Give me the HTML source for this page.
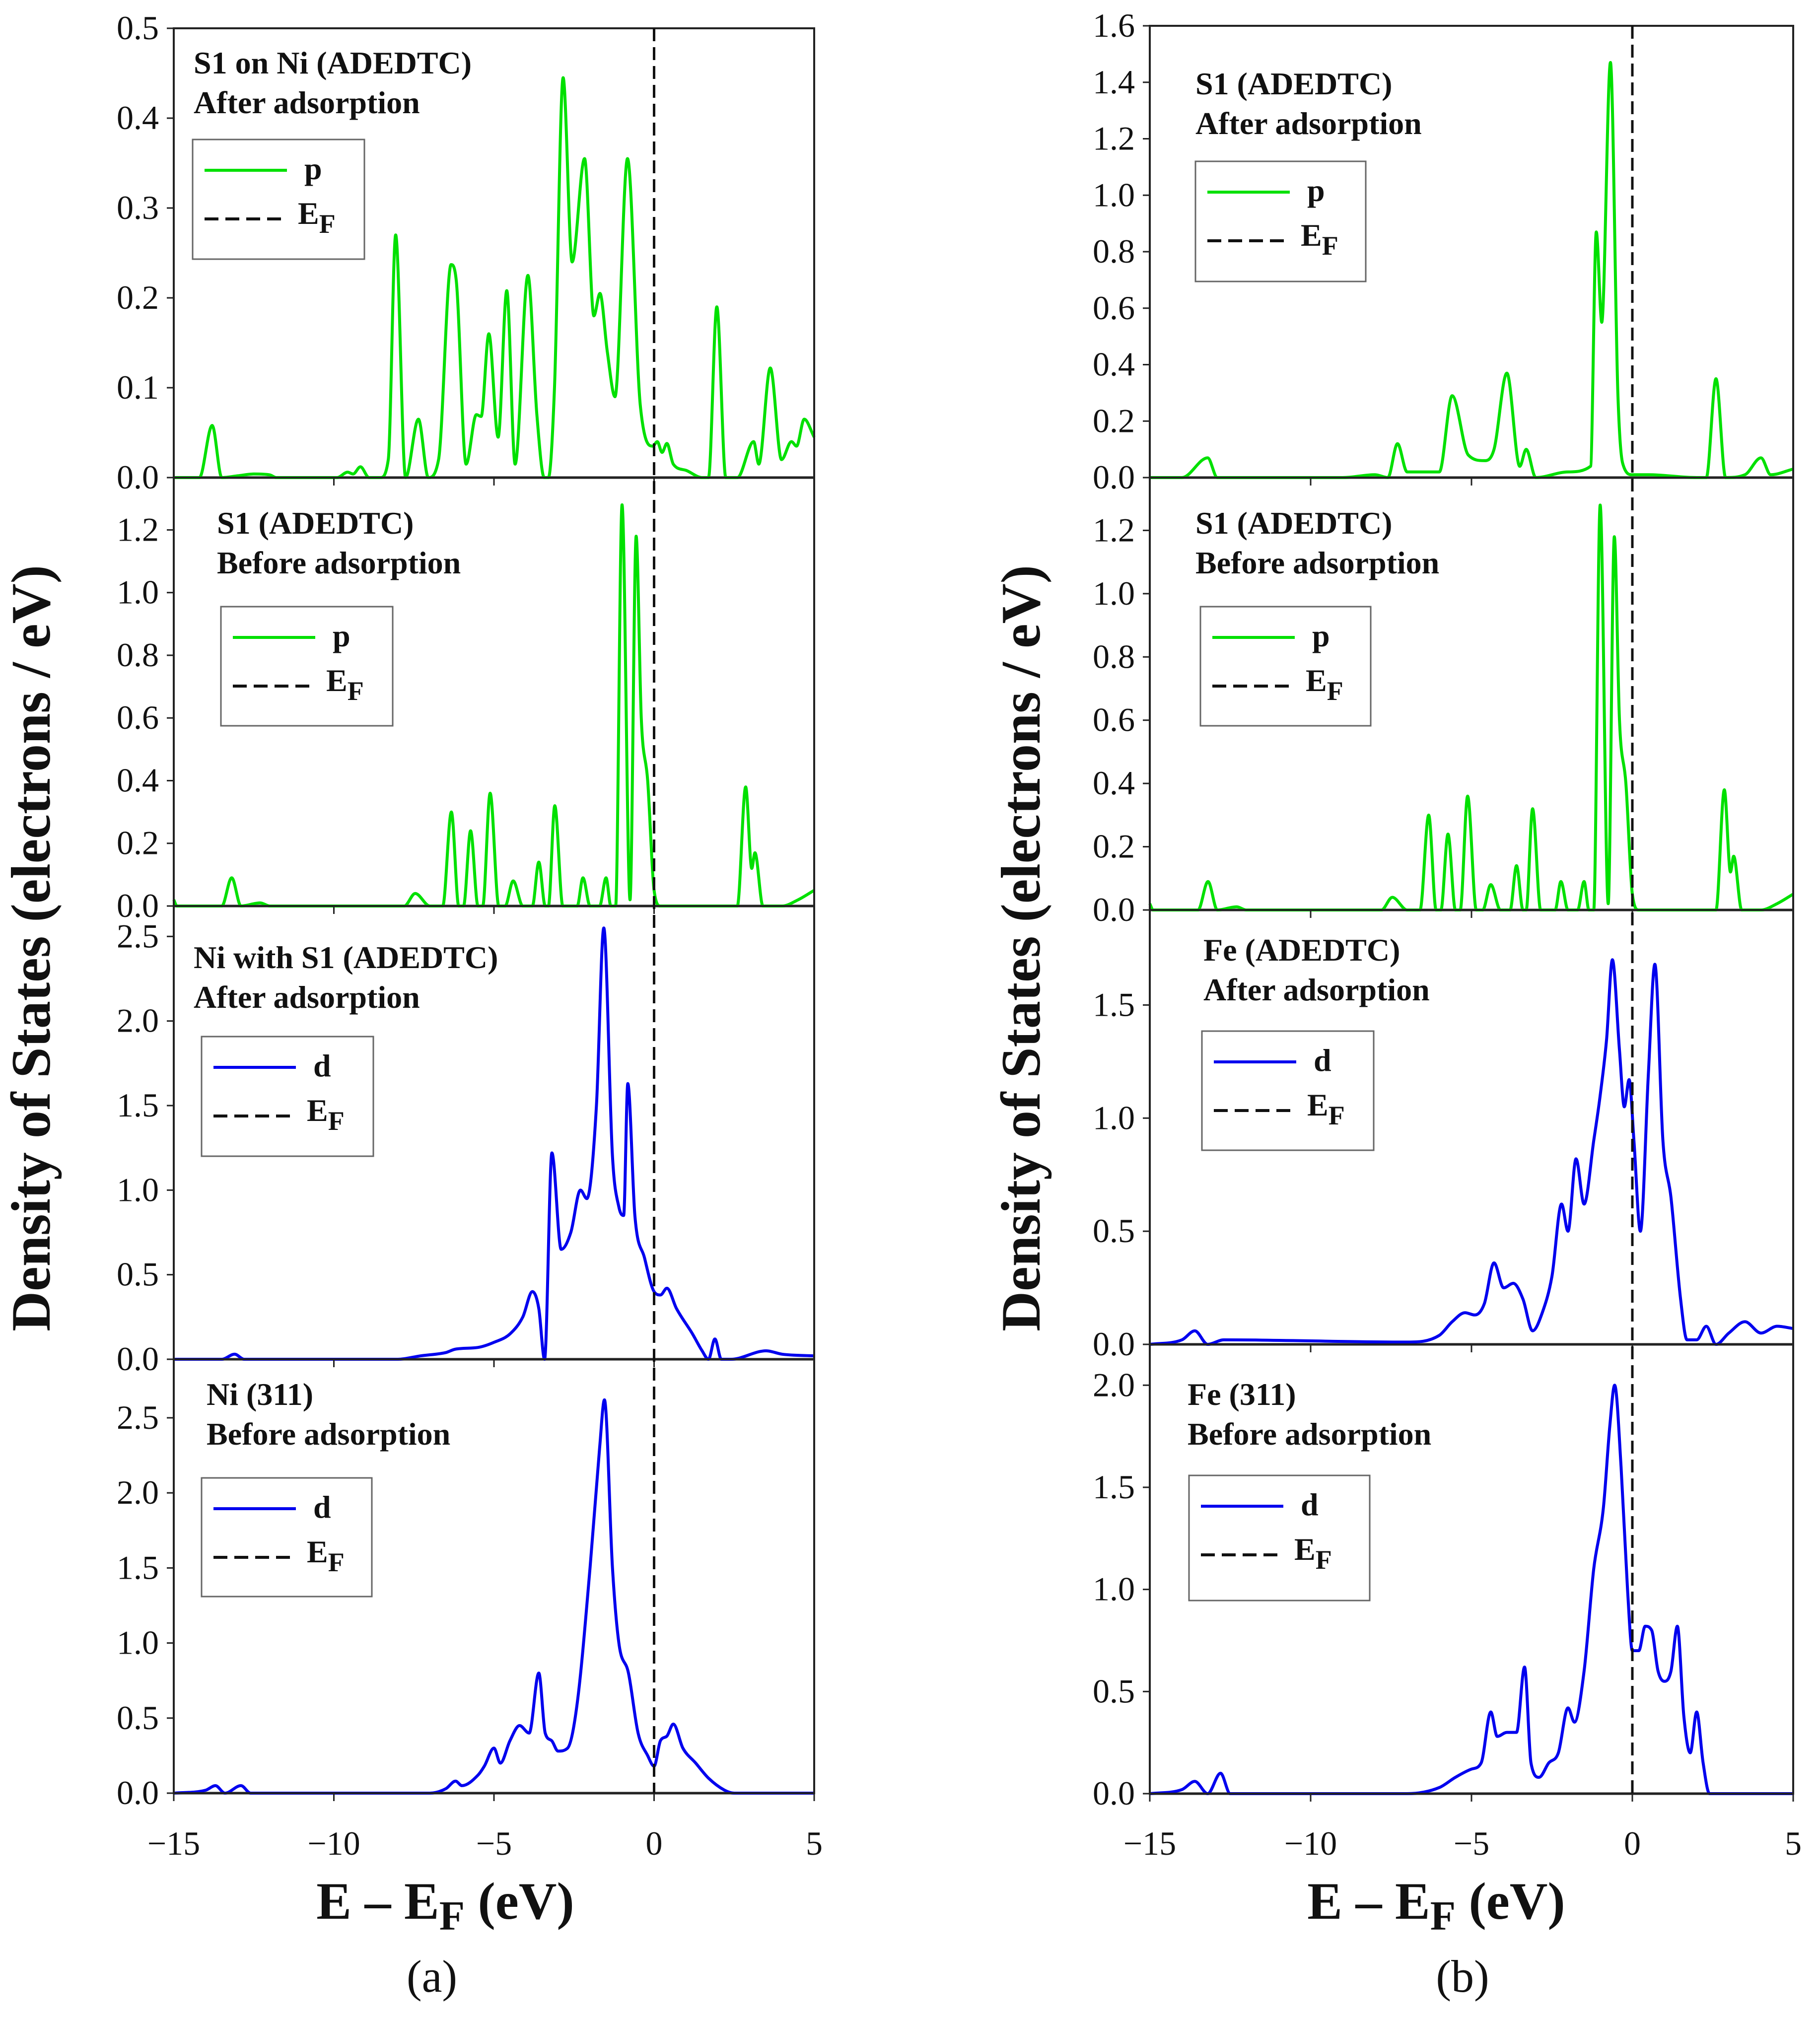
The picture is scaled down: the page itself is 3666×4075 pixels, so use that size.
<!DOCTYPE html>
<html><head><meta charset="utf-8"><style>
html,body{margin:0;padding:0;background:#fff}
svg{display:block}
text{font-family:"Liberation Serif",serif}
</style></head><body>
<svg id="fig" xmlns="http://www.w3.org/2000/svg" width="3666" height="4075" viewBox="0 0 3666 4075">
<rect width="3666" height="4075" fill="#fff"/>
</svg>
<script>
// ---- data (energy in eV, DOS in electrons/eV) ----
const s1NiAfterE=[-15,-14.2,-13.8,-13.5,-13,-12.5,-12,-11.8,-9.9,-9.57,-9.4,-9.17,-8.9,-8.55,-8.3,-8.07,-7.76,-7.36,-7.05,-6.73,-6.34,-6.18,-5.87,-5.55,-5.4,-5.16,-4.87,-4.6,-4.34,-3.94,-3.66,-3.43,-3.3,-3.11,-2.84,-2.56,-2.17,-1.88,-1.69,-1.46,-1.22,-0.83,-0.43,-0.04,0.1,0.25,0.4,0.6,1.0,1.5,1.7,1.96,2.24,2.6,3.11,3.27,3.63,3.98,4.29,4.45,4.69,5];
const s1NiAfterDos=[0,0,0.058,0,0.002,0.004,0.003,0,0,0.006,0.004,0.012,0,0,0.02,0.27,0,0.065,0,0.02,0.237,0.22,0.015,0.07,0.068,0.16,0.045,0.208,0.015,0.225,0.07,0,0,0.1,0.445,0.24,0.355,0.18,0.205,0.14,0.09,0.355,0.08,0.035,0.04,0.028,0.038,0.015,0.008,0,0,0.19,0,0,0.04,0.015,0.122,0.02,0.04,0.035,0.065,0.045];
const s1BeforeE=[-15,-14.9,-13.5,-13.19,-12.9,-12.3,-12,-7.8,-7.46,-7,-6.6,-6.33,-6.1,-5.95,-5.73,-5.5,-5.35,-5.12,-4.85,-4.65,-4.4,-4.1,-3.8,-3.6,-3.4,-3.3,-3.1,-2.85,-2.4,-2.22,-2.0,-1.7,-1.5,-1.35,-1.2,-1.0,-0.75,-0.56,-0.4,-0.2,0,0.2,2.6,2.86,3.05,3.15,3.4,4,4.5,5];
const s1BeforeDos=[0.02,0,0,0.09,0,0.01,0,0,0.04,0,0,0.3,0,0,0.24,0,0,0.36,0,0,0.08,0,0,0.14,0,0,0.32,0,0,0.09,0,0,0.09,0,0,1.28,0.02,1.18,0.6,0.4,0.05,0,0,0.38,0.12,0.17,0,0,0.02,0.05];
const niAfterE=[-15,-13.5,-13.1,-12.8,-12,-8,-7.3,-6.5,-6.2,-5.5,-5,-4.5,-4.1,-3.8,-3.6,-3.42,-3.19,-2.9,-2.6,-2.3,-2.1,-1.8,-1.57,-1.3,-1.1,-0.95,-0.82,-0.6,-0.3,0,0.2,0.4,0.7,1.2,1.5,1.7,1.9,2.1,2.4,3.5,4,5];
const niAfterDos=[0,0,0.03,0,0,0,0.02,0.04,0.06,0.07,0.1,0.15,0.25,0.4,0.3,0,1.22,0.65,0.75,1.0,0.95,1.5,2.55,1.2,0.9,0.85,1.63,0.85,0.6,0.4,0.38,0.42,0.3,0.15,0.05,0,0.12,0,0,0.05,0.03,0.02];
const niBeforeE=[-15,-14,-13.7,-13.4,-12.9,-12.6,-7,-6.5,-6.2,-6,-5.5,-5.3,-5.0,-4.8,-4.5,-4.2,-3.9,-3.6,-3.4,-3.2,-3.0,-2.7,-2.4,-2.0,-1.7,-1.55,-1.3,-1.1,-0.8,-0.5,-0.2,0,0.2,0.4,0.6,0.9,1.3,1.7,2.2,2.5,5];
const niBeforeDos=[0,0.02,0.05,0,0.05,0,0,0.03,0.08,0.05,0.12,0.18,0.3,0.2,0.35,0.45,0.4,0.8,0.4,0.35,0.28,0.3,0.6,1.5,2.3,2.62,1.5,1.0,0.8,0.4,0.25,0.18,0.35,0.38,0.46,0.3,0.2,0.1,0.02,0,0];
const s1FeAfterE=[-15,-14,-13.2,-12.9,-9,-8,-7.6,-7.3,-7,-6,-5.6,-5.1,-4.6,-4.3,-3.9,-3.5,-3.3,-3.0,-2,-1.3,-1.12,-0.95,-0.68,-0.45,-0.3,0,0.5,2.0,2.3,2.6,2.9,3.5,4.0,4.3,5];
const s1FeAfterDos=[0,0,0.07,0,0,0.01,0,0.12,0.02,0.02,0.29,0.08,0.06,0.1,0.37,0.04,0.1,0,0.02,0.04,0.87,0.55,1.47,0.3,0.05,0.01,0.01,0,0,0.35,0,0.01,0.07,0.01,0.03];
const feAfterE=[-15,-14,-13.6,-13.2,-12.7,-7,-6,-5.6,-5.2,-4.9,-4.6,-4.3,-4.0,-3.7,-3.4,-3.1,-2.8,-2.5,-2.2,-2.0,-1.75,-1.5,-1.2,-1.0,-0.8,-0.62,-0.4,-0.25,-0.1,0.05,0.25,0.5,0.7,0.95,1.2,1.5,1.7,2.0,2.3,2.6,3,3.5,4,4.5,5];
const feAfterDos=[0,0.02,0.06,0,0.02,0.01,0.04,0.1,0.14,0.13,0.18,0.36,0.25,0.27,0.2,0.06,0.14,0.3,0.62,0.5,0.82,0.62,0.9,1.1,1.35,1.7,1.3,1.05,1.17,0.9,0.5,1.2,1.68,0.9,0.65,0.2,0.02,0.02,0.08,0,0.05,0.1,0.05,0.08,0.07];
const feBeforeE=[-15,-14,-13.6,-13.2,-12.8,-12.5,-7,-6,-5.5,-5,-4.7,-4.4,-4.2,-3.9,-3.6,-3.35,-3.15,-2.9,-2.6,-2.3,-2.0,-1.8,-1.5,-1.2,-0.9,-0.7,-0.55,-0.35,-0.15,0,0.2,0.4,0.6,0.8,1.0,1.2,1.4,1.6,1.8,2.0,2.2,2.4,5];
const feBeforeDos=[0,0.02,0.06,0,0.1,0,0,0.03,0.08,0.12,0.15,0.4,0.28,0.3,0.3,0.62,0.15,0.08,0.15,0.2,0.42,0.35,0.6,1.1,1.4,1.8,2.0,1.6,1.0,0.7,0.7,0.82,0.8,0.6,0.55,0.6,0.82,0.38,0.2,0.4,0.15,0,0];
const xTicks=[-15,-10,-5,0,5];
const xTickLabels=["\u221215","\u221210","\u22125","0","5"];

const NS="http://www.w3.org/2000/svg";
const svg=document.getElementById('fig');
function mk(tag,attrs,parent){const e=document.createElementNS(NS,tag);for(const k in attrs)e.setAttribute(k,attrs[k]);(parent||svg).appendChild(e);return e;}

// monotone cubic path (no overshoot)
function monoPath(xs,ys){
  const n=xs.length,d=[],m=[];
  for(let i=0;i<n-1;i++)d.push((ys[i+1]-ys[i])/(xs[i+1]-xs[i]));
  m[0]=d[0];m[n-1]=d[n-2];
  for(let i=1;i<n-1;i++){m[i]=(d[i-1]*d[i]<=0)?0:(d[i-1]+d[i])/2;}
  for(let i=0;i<n-1;i++){
    if(d[i]===0){m[i]=0;m[i+1]=0;continue;}
    const a=m[i]/d[i],b=m[i+1]/d[i],s=a*a+b*b;
    if(s>9){const t=3/Math.sqrt(s);m[i]=t*a*d[i];m[i+1]=t*b*d[i];}
  }
  let p='M'+xs[0].toFixed(1)+','+ys[0].toFixed(1);
  for(let i=0;i<n-1;i++){
    const h=(xs[i+1]-xs[i])/3;
    p+=' C'+(xs[i]+h).toFixed(1)+','+(ys[i]+m[i]*h).toFixed(1)+' '+(xs[i+1]-h).toFixed(1)+','+(ys[i+1]-m[i+1]*h).toFixed(1)+' '+xs[i+1].toFixed(1)+','+ys[i+1].toFixed(1);
  }
  return p;
}

const LX0=350,LX1=1640,RX0=2316,RX1=3612;
const panels=[
 {name:'s1-ni-after',x0:LX0,x1:LX1,yt:57,yb:962,ymax:0.5,step:0.1,E:s1NiAfterE,D:s1NiAfterDos,col:'#00e000',lbl:'p',t1:'S1 on Ni (ADEDTC)',t2:'After adsorption',tx:390,ty:148,lg:[388,281,346,241]},
 {name:'s1-before-a',x0:LX0,x1:LX1,yt:962,yb:1825,ymax:1.367,step:0.2,E:s1BeforeE,D:s1BeforeDos,col:'#00e000',lbl:'p',t1:'S1 (ADEDTC)',t2:'Before adsorption',tx:437,ty:1075,lg:[445,1222,346,240]},
 {name:'ni-after',x0:LX0,x1:LX1,yt:1825,yb:2738,ymax:2.68,step:0.5,E:niAfterE,D:niAfterDos,col:'#0000ee',lbl:'d',t1:'Ni with S1 (ADEDTC)',t2:'After adsorption',tx:390,ty:1950,lg:[406,2088,346,241]},
 {name:'ni-before',x0:LX0,x1:LX1,yt:2738,yb:3612,ymax:2.89,step:0.5,E:niBeforeE,D:niBeforeDos,col:'#0000ee',lbl:'d',t1:'Ni (311)',t2:'Before adsorption',tx:416,ty:2830,lg:[406,2977,343,239]},
 {name:'s1-fe-after',x0:RX0,x1:RX1,yt:52,yb:962,ymax:1.6,step:0.2,E:s1FeAfterE,D:s1FeAfterDos,col:'#00e000',lbl:'p',t1:'S1 (ADEDTC)',t2:'After adsorption',tx:2408,ty:190,lg:[2408,325,343,242]},
 {name:'s1-before-b',x0:RX0,x1:RX1,yt:962,yb:1833,ymax:1.367,step:0.2,E:s1BeforeE,D:s1BeforeDos,col:'#00e000',lbl:'p',t1:'S1 (ADEDTC)',t2:'Before adsorption',tx:2408,ty:1075,lg:[2418,1222,343,240]},
 {name:'fe-after',x0:RX0,x1:RX1,yt:1833,yb:2708,ymax:1.92,step:0.5,E:feAfterE,D:feAfterDos,col:'#0000ee',lbl:'d',t1:'Fe (ADEDTC)',t2:'After adsorption',tx:2424,ty:1935,lg:[2421,2077,346,240]},
 {name:'fe-before',x0:RX0,x1:RX1,yt:2708,yb:3613,ymax:2.2,step:0.5,E:feBeforeE,D:feBeforeDos,col:'#0000ee',lbl:'d',t1:'Fe (311)',t2:'Before adsorption',tx:2392,ty:2830,lg:[2395,2972,364,252]}
];

panels.forEach(p=>{
  const g=mk('g',{});
  
  
  const X=e=>p.x0+(e+15)/20*(p.x1-p.x0);
  const Y=v=>p.yb-v/p.ymax*(p.yb-p.yt);
  const zl=mk('line',{x1:p.x0,x2:p.x1,y1:p.yb,y2:p.yb,stroke:'#888',"stroke-width":6},g);
  
  
  const pl=mk('path',{d:monoPath(p.E.map(X),p.D.map(Y)),fill:'none',stroke:p.col,"stroke-width":6,"stroke-linejoin":'round'},g);
  
  
  const fr=mk('rect',{x:p.x0,y:p.yt,width:p.x1-p.x0,height:p.yb-p.yt,fill:'none',stroke:'#222',"stroke-width":4},g);
  
  
  for(let v=0;v<=p.ymax+1e-9;v+=p.step){
    const y=Y(v);
    mk('line',{x1:p.x0-14,x2:p.x0,y1:y,y2:y,stroke:'#222',"stroke-width":3},g);
    const t=mk('text',{x:p.x0-30,y:y+22,"text-anchor":'end',"font-size":68,fill:'#111'},g);
    t.textContent=v.toFixed(1);
    
    
  }
  xTicks.forEach(e=>{mk('line',{x1:X(e),x2:X(e),y1:p.yb,y2:p.yb+16,stroke:'#222',"stroke-width":3},g);});
  const t1=mk('text',{x:p.tx,y:p.ty,"font-size":64,"font-weight":'bold',fill:'#111'},g);
  t1.textContent=p.t1;
  
  
  const t2=mk('text',{x:p.tx,y:p.ty+80,"font-size":64,"font-weight":'bold',fill:'#111'},g);
  t2.textContent=p.t2;
  
  
  const [lx,ly,lw,lh]=p.lg;
  const lg=mk('g',{},g);
  
  
  mk('rect',{x:lx,y:ly,width:lw,height:lh,fill:'#fff',stroke:'#666',"stroke-width":3},lg);
  mk('line',{x1:lx+24,x2:lx+190,y1:ly+62,y2:ly+62,stroke:p.col,"stroke-width":6},lg);
  mk('line',{x1:lx+24,x2:lx+190,y1:ly+160,y2:ly+160,stroke:'#111',"stroke-width":6,"stroke-dasharray":'28,14'},lg);
  const l1=mk('text',{x:lx+225,y:ly+80,"font-size":64,"font-weight":'bold',fill:'#111'},lg);
  l1.textContent=p.lbl;
  
  
  const l2=mk('text',{x:lx+212,y:ly+170,"font-size":64,"font-weight":'bold',fill:'#111'},lg);
  l2.innerHTML='E<tspan font-size="54" dy="18">F</tspan>';
  
  
});

[[LX0,LX1,57,3612,'a',897,870,100],[RX0,RX1,52,3613,'b',2893,2946,2094]].forEach(c=>{
  const [x0,x1,yt,yb,lab,titleX,subX,yx]=c;
  const X=e=>x0+(e+15)/20*(x1-x0);
  const ef=mk('line',{x1:X(0),x2:X(0),y1:yt,y2:yb,stroke:'#111',"stroke-width":5,"stroke-dasharray":'26,12'});
  
  
  xTicks.forEach((e,i)=>{
    const t=mk('text',{x:X(e),y:3736,"text-anchor":'middle',"font-size":68,fill:'#111'});
    t.textContent=xTickLabels[i];
    
    
  });
  const xt=mk('text',{x:titleX,y:3865,"text-anchor":'middle',"font-size":106,"font-weight":'bold',fill:'#111'});
  xt.innerHTML='E \u2013 E<tspan font-size="84" dy="22">F</tspan><tspan dy="-22"> (eV)</tspan>';
  
  
  const sl=mk('text',{x:subX,y:4012,"text-anchor":'middle',"font-size":92,fill:'#111',"font-family":'Liberation Sans, sans-serif'});
  sl.textContent='('+lab+')';
  
  
  const yt2=mk('text',{x:yx,y:1910,"text-anchor":'middle',"font-size":112,"font-weight":'bold',fill:'#111',transform:'rotate(-90 '+yx+' 1910)'});
  yt2.textContent='Density of States (electrons / eV)';
  
  
});
</script>
</body></html>
